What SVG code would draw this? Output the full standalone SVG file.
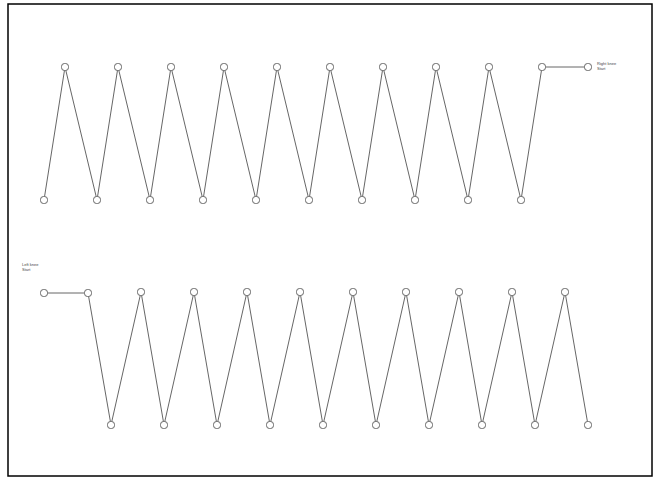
<svg xmlns="http://www.w3.org/2000/svg" width="653" height="477" viewBox="0 0 653 477">
<style>
.frame{fill:#fff;stroke:#000;stroke-width:1.5}
.n{fill:#fff;stroke:#666;stroke-width:1}
.c{fill:none;stroke:#555;stroke-width:0.9}
.t{font-family:"Liberation Sans",Arial,sans-serif;font-size:4px;fill:#444}
</style>
<rect class="frame" x="8" y="4" width="644" height="472"/>
<g id="connectors">
<polyline class="c" points="44,200 65,67 97,200 118,67 150,200 171,67 203,200 224,67 256,200 277,67 309,200 330,67 362,200 383,67 415,200 436,67 468,200 489,67 521,200 542,67 588,67"/>
<polyline class="c" points="44,293 88,293 111,425 141,292 164,425 194,292 217,425 247,292 270,425 300,292 323,425 353,292 376,425 406,292 429,425 459,292 482,425 512,292 535,425 565,292 588,425"/>
</g>
<g id="top-row">
<g id="t0"><rect class="n" x="40.5" y="196.5" width="7" height="7" rx="3"/></g>
<g id="t1"><rect class="n" x="61.5" y="63.5" width="7" height="7" rx="3"/></g>
<g id="t2"><rect class="n" x="93.5" y="196.5" width="7" height="7" rx="3"/></g>
<g id="t3"><rect class="n" x="114.5" y="63.5" width="7" height="7" rx="3"/></g>
<g id="t4"><rect class="n" x="146.5" y="196.5" width="7" height="7" rx="3"/></g>
<g id="t5"><rect class="n" x="167.5" y="63.5" width="7" height="7" rx="3"/></g>
<g id="t6"><rect class="n" x="199.5" y="196.5" width="7" height="7" rx="3"/></g>
<g id="t7"><rect class="n" x="220.5" y="63.5" width="7" height="7" rx="3"/></g>
<g id="t8"><rect class="n" x="252.5" y="196.5" width="7" height="7" rx="3"/></g>
<g id="t9"><rect class="n" x="273.5" y="63.5" width="7" height="7" rx="3"/></g>
<g id="t10"><rect class="n" x="305.5" y="196.5" width="7" height="7" rx="3"/></g>
<g id="t11"><rect class="n" x="326.5" y="63.5" width="7" height="7" rx="3"/></g>
<g id="t12"><rect class="n" x="358.5" y="196.5" width="7" height="7" rx="3"/></g>
<g id="t13"><rect class="n" x="379.5" y="63.5" width="7" height="7" rx="3"/></g>
<g id="t14"><rect class="n" x="411.5" y="196.5" width="7" height="7" rx="3"/></g>
<g id="t15"><rect class="n" x="432.5" y="63.5" width="7" height="7" rx="3"/></g>
<g id="t16"><rect class="n" x="464.5" y="196.5" width="7" height="7" rx="3"/></g>
<g id="t17"><rect class="n" x="485.5" y="63.5" width="7" height="7" rx="3"/></g>
<g id="t18"><rect class="n" x="517.5" y="196.5" width="7" height="7" rx="3"/></g>
<g id="t19"><rect class="n" x="538.5" y="63.5" width="7" height="7" rx="3"/></g>
<g id="t-start"><rect class="n" x="584.5" y="63.5" width="7" height="7" rx="3"/>
<text class="t" x="597" y="65">Right knee</text><text class="t" x="597" y="70">Start</text></g>
</g>
<g id="bottom-row">
<g id="b-start"><rect class="n" x="40.5" y="289.5" width="7" height="7" rx="3"/>
<text class="t" x="22" y="266">Left knee</text><text class="t" x="22" y="271">Start</text></g>
<g id="b0"><rect class="n" x="84.5" y="289.5" width="7" height="7" rx="3"/></g>
<g id="b1"><rect class="n" x="107.5" y="421.5" width="7" height="7" rx="3"/></g>
<g id="b2"><rect class="n" x="137.5" y="288.5" width="7" height="7" rx="3"/></g>
<g id="b3"><rect class="n" x="160.5" y="421.5" width="7" height="7" rx="3"/></g>
<g id="b4"><rect class="n" x="190.5" y="288.5" width="7" height="7" rx="3"/></g>
<g id="b5"><rect class="n" x="213.5" y="421.5" width="7" height="7" rx="3"/></g>
<g id="b6"><rect class="n" x="243.5" y="288.5" width="7" height="7" rx="3"/></g>
<g id="b7"><rect class="n" x="266.5" y="421.5" width="7" height="7" rx="3"/></g>
<g id="b8"><rect class="n" x="296.5" y="288.5" width="7" height="7" rx="3"/></g>
<g id="b9"><rect class="n" x="319.5" y="421.5" width="7" height="7" rx="3"/></g>
<g id="b10"><rect class="n" x="349.5" y="288.5" width="7" height="7" rx="3"/></g>
<g id="b11"><rect class="n" x="372.5" y="421.5" width="7" height="7" rx="3"/></g>
<g id="b12"><rect class="n" x="402.5" y="288.5" width="7" height="7" rx="3"/></g>
<g id="b13"><rect class="n" x="425.5" y="421.5" width="7" height="7" rx="3"/></g>
<g id="b14"><rect class="n" x="455.5" y="288.5" width="7" height="7" rx="3"/></g>
<g id="b15"><rect class="n" x="478.5" y="421.5" width="7" height="7" rx="3"/></g>
<g id="b16"><rect class="n" x="508.5" y="288.5" width="7" height="7" rx="3"/></g>
<g id="b17"><rect class="n" x="531.5" y="421.5" width="7" height="7" rx="3"/></g>
<g id="b18"><rect class="n" x="561.5" y="288.5" width="7" height="7" rx="3"/></g>
<g id="b19"><rect class="n" x="584.5" y="421.5" width="7" height="7" rx="3"/></g>
</g>
</svg>
